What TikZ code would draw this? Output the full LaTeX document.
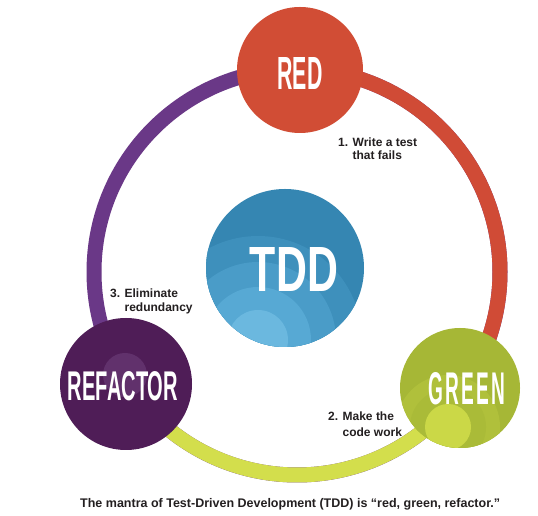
\documentclass[tikz,border=0pt]{standalone}
\usepackage{fontspec}
\setmainfont{Liberation Sans}
\usepackage{graphicx}
\definecolor{redc}{HTML}{D14D35}
\definecolor{redarc}{HTML}{D04B36}
\definecolor{purplearc}{HTML}{6A3887}
\definecolor{purpledark}{HTML}{4F1D57}
\definecolor{purplelight}{HTML}{61316C}
\definecolor{yellowarc}{HTML}{D3DE4C}
\definecolor{greenc}{HTML}{A6B736}
\definecolor{greenmid}{HTML}{B0C03B}
\definecolor{greenlight}{HTML}{CBD847}
\definecolor{blueA}{HTML}{3586B2}
\definecolor{blueB}{HTML}{3E90BC}
\definecolor{blueC}{HTML}{4A9CC8}
\definecolor{blueD}{HTML}{57A9D4}
\definecolor{blueE}{HTML}{6BB8DF}
\definecolor{labc}{HTML}{231F20}
\begin{document}
\begin{tikzpicture}[x=1pt,y=1pt,
  lab/.style={inner sep=0pt, anchor=base west, text=labc, font=\fontsize{12}{14}\selectfont\bfseries},
  big/.style={inner sep=0pt, text=white, font=\bfseries},
  disc/.style={circle, inner sep=0pt, draw=none},
  ring/.style={line width=15pt}]
\useasboundingbox (0,0) rectangle (538,516);
\fill[white] (0,0) rectangle (538,516);
% ring
\coordinate (ringc) at (297,244);
\draw[ring, purplearc] (ringc) circle[radius=203];
\draw[ring, redarc] (ringc) ++(89:203) arc[start angle=89, end angle=-35, radius=203];
\draw[ring, yellowarc] (ringc) ++(-35:203) arc[start angle=-35, end angle=-147, radius=203];
% RED
\node[disc, fill=redc, minimum size=126pt] (red) at (300,446) {};
\node[big] (redt) at (300,442) {\resizebox{45pt}{32pt}{RED}};
% GREEN
\node[disc, fill=greenc, minimum size=120pt] (green) at (460,128) {};
\begin{scope}
  \clip (green.center) circle[radius=60];
  \fill[greenmid] (448,89) circle[radius=52];
  \fill[greenc!60!greenmid] (448,89) circle[radius=38];
  \fill[greenlight] (448,89) circle[radius=23];
\end{scope}
\node[big] (greent) at (467,127) {\resizebox{77pt}{32pt}{\addfontfeature{LetterSpace=12}GREEN}};
% REFACTOR
\node[disc, fill=purpledark, minimum size=132pt] (refactor) at (126,132) {};
\fill[purplelight] (125,141) circle[radius=22];
\node[big] (refactort) at (123,130) {\resizebox{110pt}{29pt}{REFACTOR}};
% TDD
\node[disc, fill=blueA, minimum size=158pt] (tdd) at (285,248) {};
\begin{scope}
  \clip (tdd.center) circle[radius=79];
  \fill[blueB] (258,176) circle[radius=104];
  \fill[blueC] (258,176) circle[radius=78];
  \fill[blueD] (258,176) circle[radius=53];
  \fill[blueE] (258,176) circle[radius=30];
\end{scope}
\node[big] (tddt) at (294,246) {\resizebox{88pt}{44pt}{TDD}};
% labels
\node[lab] (l1) at (338,369) {\begin{tabular}[t]{@{}l@{ }l@{}}1.&Write a test\\[-1pt]&that fails\end{tabular}};
\node[lab] (l3) at (110,218) {\begin{tabular}[t]{@{}l@{ }l@{}}3.&Eliminate\\&redundancy\end{tabular}};
\node[lab] (l2) at (328,95) {\begin{tabular}[t]{@{}l@{ }l@{}}2.&Make the\\[2pt]&code work\end{tabular}};
% caption
\node[inner sep=0pt, anchor=base west, text=labc, font=\fontsize{12.5}{14}\selectfont\bfseries] (cap) at (80,8.5) {The mantra of Test-Driven Development (TDD) is “red, green, refactor.”};
\end{tikzpicture}
\end{document}
